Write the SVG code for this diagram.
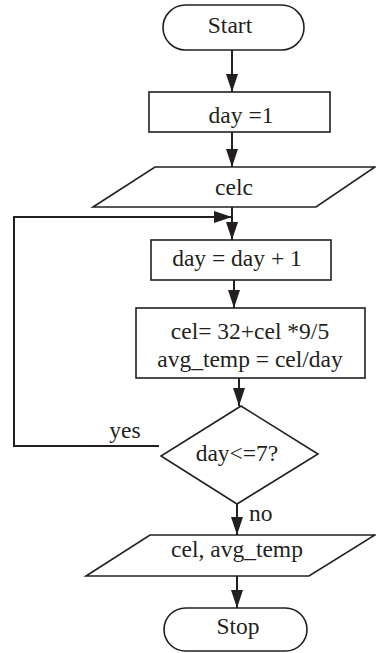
<svg xmlns="http://www.w3.org/2000/svg" width="376" height="653" viewBox="0 0 376 653">
<defs>
<marker id="arr" markerUnits="userSpaceOnUse" markerWidth="19" markerHeight="12" refX="18" refY="6" orient="auto">
<path d="M0,0 L18,6 L0,12 z" fill="#231f20"/>
</marker>
<style>
.shape{fill:#fff;stroke:#231f20;stroke-width:1.6}
.conn{fill:none;stroke:#231f20;stroke-width:2;marker-end:url(#arr)}
text{font-family:"Liberation Serif","Times New Roman",serif;font-size:23.5px;fill:#231f20;text-anchor:middle}
</style>
</defs>
<rect width="376" height="653" fill="#fff"/>
<g id="connectors">
<line class="conn" x1="232" y1="50" x2="232" y2="92"/>
<line class="conn" x1="232" y1="132" x2="232" y2="167"/>
<line class="conn" x1="232" y1="207" x2="232" y2="240"/>
<line class="conn" x1="234" y1="280" x2="234" y2="308"/>
<line class="conn" x1="239" y1="378" x2="239" y2="406"/>
<line class="conn" x1="237" y1="504" x2="237" y2="535"/>
<line class="conn" x1="237" y1="576" x2="237" y2="608"/>
<polyline class="conn" points="159,446 14,446 14,217 232,217"/>
<text x="125" y="438">yes</text>
<text x="249" y="521" style="text-anchor:start">no</text>
</g>
<g id="start">
<rect class="shape" x="163" y="5" width="141" height="45" rx="22.5"/>
<text x="230" y="33">Start</text>
</g>
<g id="init">
<rect class="shape" x="149" y="92" width="181" height="40"/>
<text x="241" y="123">day =1</text>
</g>
<g id="input">
<polygon class="shape" points="155,167 375,167 316,207 93,207"/>
<text x="234" y="195">celc</text>
</g>
<g id="increment">
<rect class="shape" x="151" y="240" width="180" height="40"/>
<text x="237" y="266">day = day + 1</text>
</g>
<g id="compute">
<rect class="shape" x="136" y="308" width="229" height="70"/>
<text x="250" y="339">cel= 32+cel *9/5</text>
<text x="250" y="367">avg_temp = cel/day</text>
</g>
<g id="decision">
<polygon class="shape" points="241,406 318,454 237,504 161,456"/>
<text x="237" y="461">day&lt;=7?</text>
</g>
<g id="output">
<polygon class="shape" points="150,535 375,535 309,576 86,576"/>
<text x="237" y="557">cel, avg_temp</text>
</g>
<g id="stop">
<rect class="shape" x="164" y="608" width="143" height="43" rx="21.5"/>
<text x="238" y="634">Stop</text>
</g>
</svg>
